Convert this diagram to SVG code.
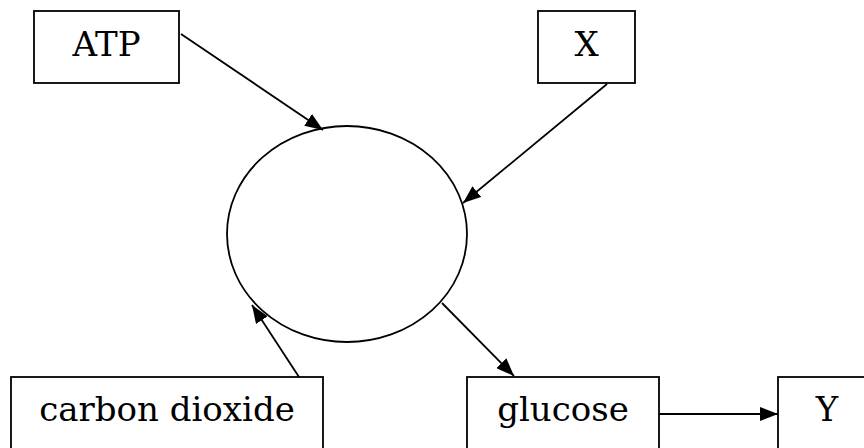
<svg xmlns="http://www.w3.org/2000/svg" width="864" height="448" viewBox="0 0 864 448">
  <style>
    .box { fill: #fff; stroke: #000; stroke-width: 1.8; }
    .label { font-family: "DejaVu Serif", "Liberation Serif", serif; font-size: 34px; fill: #000; text-anchor: middle; }
    .edge { fill: none; stroke: #000; stroke-width: 1.8; marker-end: url(#arrow); }
  </style>
  <defs>
    <marker id="arrow" markerUnits="userSpaceOnUse" markerWidth="18" markerHeight="14" refX="18" refY="7" orient="auto">
      <path d="M0,0 L18,7 L0,14 Z" fill="#000"/>
    </marker>
  </defs>
  <rect width="864" height="448" fill="#fff"/>

  <g id="cycle">
    <ellipse cx="347" cy="234" rx="120" ry="108" fill="none" stroke="#000" stroke-width="1.8"/>
  </g>

  <g id="atp">
    <rect class="box" x="34" y="11" width="145" height="72"/>
    <text class="label" x="106.5" y="56">ATP</text>
  </g>

  <g id="x">
    <rect class="box" x="538" y="11" width="97" height="72"/>
    <text class="label" x="586.5" y="56">X</text>
  </g>

  <g id="carbon-dioxide">
    <rect class="box" x="11" y="377" width="312" height="90"/>
    <text class="label" x="167" y="421">carbon dioxide</text>
  </g>

  <g id="glucose">
    <rect class="box" x="467" y="377" width="192" height="90"/>
    <text class="label" x="563" y="421">glucose</text>
  </g>

  <g id="y">
    <rect class="box" x="778" y="377" width="98" height="90"/>
    <text class="label" x="827" y="421">Y</text>
  </g>

  <g id="connectors">
    <line class="edge" x1="181" y1="34" x2="323" y2="130"/>
    <line class="edge" x1="607" y1="84" x2="463" y2="203"/>
    <line class="edge" x1="299" y1="377" x2="252" y2="305"/>
    <line class="edge" x1="442" y1="303" x2="514" y2="376"/>
    <line class="edge" x1="659" y1="414" x2="778" y2="414"/>
  </g>
</svg>
